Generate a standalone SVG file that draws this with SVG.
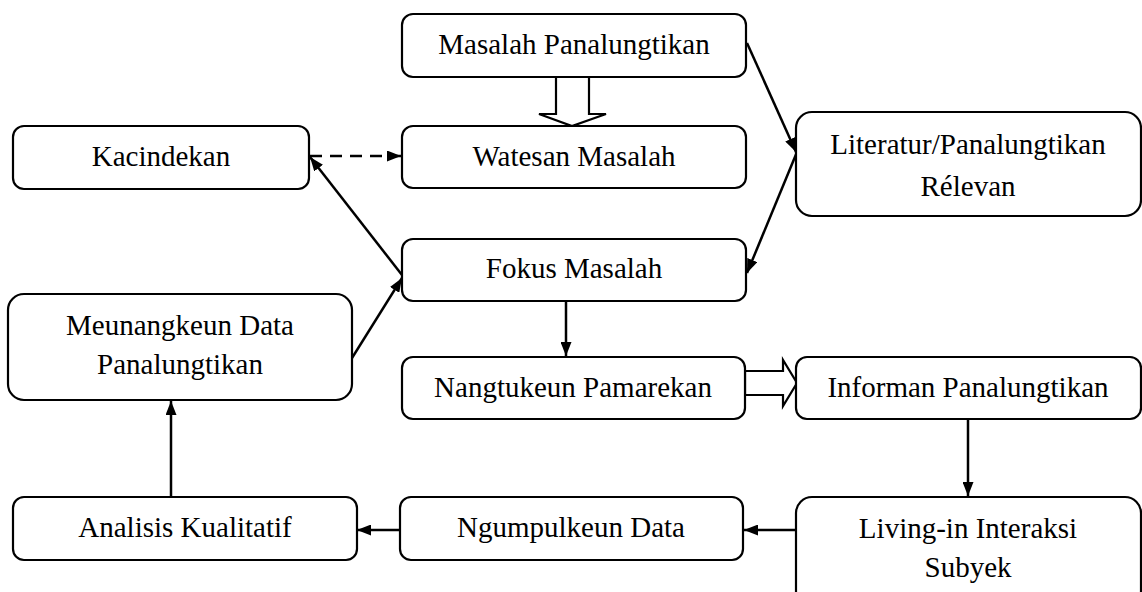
<svg xmlns="http://www.w3.org/2000/svg" width="1142" height="592" viewBox="0 0 1142 592">
<style>
.box{fill:#fff;stroke:#000;stroke-width:2.2}
.t{font-family:"Liberation Serif","Times New Roman",serif;font-size:29px;fill:#000;text-anchor:middle}
.c{stroke:#000;stroke-width:2.5;fill:none}
.h{fill:#fff;stroke:#000;stroke-width:2.2;stroke-linejoin:miter}
</style>
<defs>
<marker id="ah" viewBox="0 0 14 11" refX="14" refY="5.5" markerWidth="14" markerHeight="11" markerUnits="userSpaceOnUse" orient="auto">
<path d="M0,0 L14,5.5 L0,11 z" fill="#000"/>
</marker>
</defs>
<rect width="1142" height="592" fill="#fff"/>
<g id="connectors">
<polygon class="h" points="556,77 589,77 589,114 606,114 572,126 539,114 556,114"/>
<polygon class="h" points="745,371 783,371 783,360 797,383 783,406 783,395 745,395"/>
<line class="c" x1="747" y1="43" x2="796" y2="152" marker-end="url(#ah)"/>
<line class="c" x1="797" y1="152" x2="747" y2="273" marker-end="url(#ah)"/>
<line class="c" x1="402" y1="275" x2="310" y2="157" marker-end="url(#ah)"/>
<line class="c" x1="352" y1="358" x2="402" y2="278" marker-end="url(#ah)"/>
<line class="c" x1="310" y1="156" x2="401" y2="156" stroke-dasharray="12,8" marker-end="url(#ah)"/>
<line class="c" x1="566" y1="301" x2="566" y2="356" marker-end="url(#ah)"/>
<line class="c" x1="968" y1="419" x2="968" y2="496" marker-end="url(#ah)"/>
<line class="c" x1="796" y1="530" x2="744" y2="530" marker-end="url(#ah)"/>
<line class="c" x1="400" y1="530" x2="357" y2="530" marker-end="url(#ah)"/>
<line class="c" x1="171" y1="497" x2="171" y2="401" marker-end="url(#ah)"/>
</g>
<g id="n-masalah"><rect class="box" x="402" y="14" width="344" height="63" rx="11"/><text class="t" x="574" y="54">Masalah Panalungtikan</text></g>
<g id="n-watesan"><rect class="box" x="402" y="126" width="344" height="62" rx="11"/><text class="t" x="574" y="166">Watesan Masalah</text></g>
<g id="n-kacindekan"><rect class="box" x="13" y="126" width="296" height="63" rx="11"/><text class="t" x="161" y="166">Kacindekan</text></g>
<g id="n-literatur"><rect class="box" x="796" y="112" width="345" height="104" rx="16"/><text class="t" x="968" y="154">Literatur/Panalungtikan</text><text class="t" x="968" y="196">Rélevan</text></g>
<g id="n-fokus"><rect class="box" x="402" y="239" width="344" height="62" rx="11"/><text class="t" x="574" y="278">Fokus Masalah</text></g>
<g id="n-meunangkeun"><rect class="box" x="8" y="294" width="344" height="106" rx="16"/><text class="t" x="180" y="335">Meunangkeun Data</text><text class="t" x="180" y="374">Panalungtikan</text></g>
<g id="n-nangtukeun"><rect class="box" x="402" y="357" width="343" height="62" rx="11"/><text class="t" x="573" y="397">Nangtukeun Pamarekan</text></g>
<g id="n-informan"><rect class="box" x="796" y="357" width="345" height="62" rx="11"/><text class="t" x="968" y="397">Informan Panalungtikan</text></g>
<g id="n-living"><rect class="box" x="796" y="497" width="345" height="110" rx="16"/><text class="t" x="968" y="538">Living-in Interaksi</text><text class="t" x="968" y="577">Subyek</text></g>
<g id="n-ngumpulkeun"><rect class="box" x="400" y="497" width="343" height="63" rx="11"/><text class="t" x="571" y="537">Ngumpulkeun Data</text></g>
<g id="n-analisis"><rect class="box" x="13" y="497" width="344" height="63" rx="11"/><text class="t" x="185" y="537">Analisis Kualitatif</text></g>
</svg>
